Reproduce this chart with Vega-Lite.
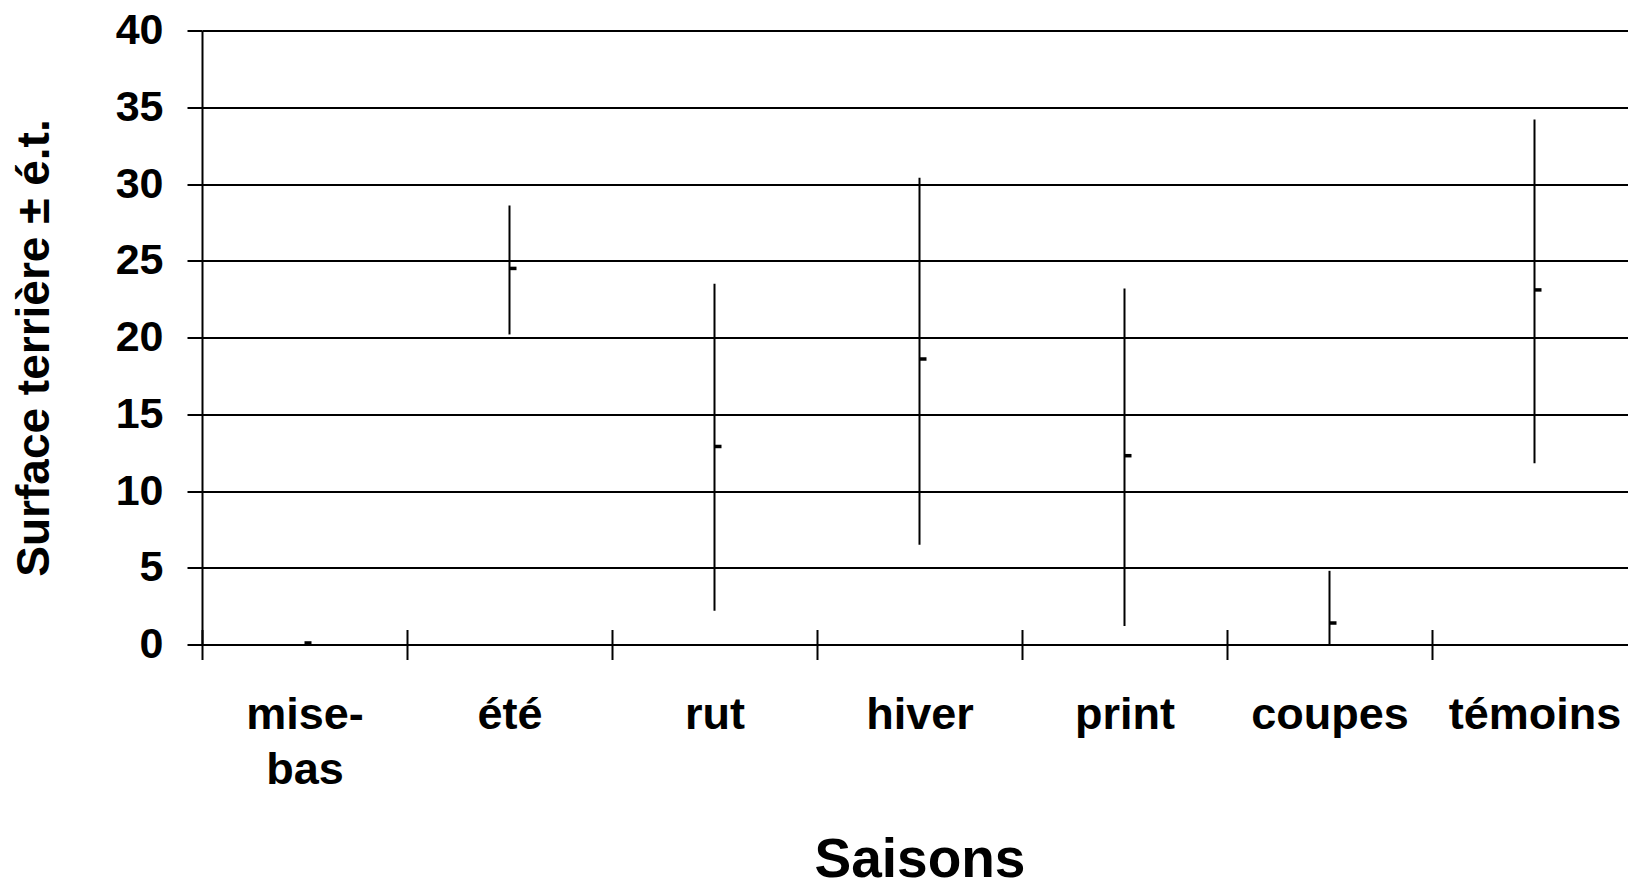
{
  "$schema": "https://vega.github.io/schema/vega-lite/v6.json",
  "width": 1426,
  "height": 614,
  "autosize": {"type": "none"},
  "padding": {"left": 202, "top": 30.5, "right": 0, "bottom": 238.5},
  "background": "white",
  "config": {"view": {"stroke": null}, "font": "Liberation Sans"},
  "data": {"values": [
    {"saison": "mise-bas", "moyenne": 0.1, "bas": null, "haut": null},
    {"saison": "été", "moyenne": 24.5, "bas": 20.2, "haut": 28.6},
    {"saison": "rut", "moyenne": 12.9, "bas": 2.2, "haut": 23.5},
    {"saison": "hiver", "moyenne": 18.6, "bas": 6.5, "haut": 30.4},
    {"saison": "print", "moyenne": 12.3, "bas": 1.2, "haut": 23.2},
    {"saison": "coupes", "moyenne": 1.4, "bas": 0, "haut": 4.8},
    {"saison": "témoins", "moyenne": 23.1, "bas": 11.8, "haut": 34.2}
  ]},
  "encoding": {
    "x": {
      "field": "saison", "type": "nominal",
      "scale": {"domain": ["mise-bas", "été", "rut", "hiver", "print", "coupes", "témoins"], "range": [0, 1435], "paddingInner": 0, "paddingOuter": 0},
      "axis": {
        "offset": -15, "domain": false, "grid": false,
        "tickBand": "extent", "tickSize": 30, "tickWidth": 2, "tickColor": "black",
        "labelAngle": 0, "labelFontSize": 45, "labelFontWeight": "bold", "labelColor": "black",
        "labelPadding": 33, "labelBaseline": "top", "labelLineHeight": 55,
        "labelExpr": "datum.value == 'mise-bas' ? ['mise-', 'bas'] : datum.value",
        "title": "Saisons", "titleFontSize": 55, "titleFontWeight": "bold", "titleColor": "black",
        "titlePadding": 41
      }
    }
  },
  "layer": [
    {
      "mark": {"type": "rule", "color": "black", "strokeWidth": 2},
      "encoding": {
        "y": {
          "field": "bas", "type": "quantitative",
          "scale": {"domain": [0, 40], "nice": false},
          "axis": {
            "values": [0, 5, 10, 15, 20, 25, 30, 35, 40],
            "grid": true, "gridColor": "black", "gridWidth": 2, "gridOpacity": 1,
            "domainColor": "black", "domainWidth": 2,
            "tickColor": "black", "tickSize": 15, "tickWidth": 2,
            "labelFontSize": 43, "labelFontWeight": "bold", "labelColor": "black", "labelPadding": 24,
            "title": "Surface terrière ± é.t.", "titleFontSize": 46, "titleFontWeight": "bold",
            "titleColor": "black", "titlePadding": 57, "titleY": 317
          }
        },
        "y2": {"field": "haut"}
      }
    },
    {
      "mark": {"type": "tick", "color": "black", "opacity": 1, "thickness": 3.5, "size": 7, "xOffset": 3.5},
      "encoding": {"y": {"field": "moyenne", "type": "quantitative"}}
    }
  ]
}
